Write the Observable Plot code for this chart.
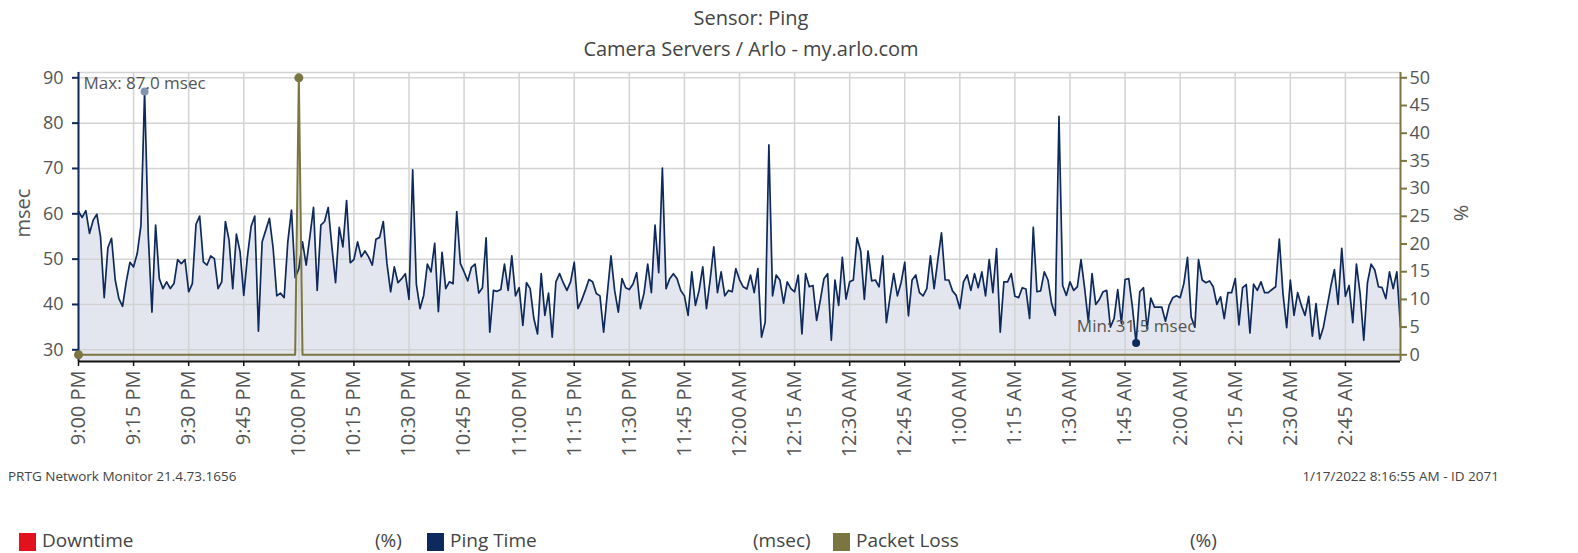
<!DOCTYPE html>
<html><head><meta charset="utf-8">
<script src="https://cdn.jsdelivr.net/npm/d3@7"></script>
<script src="https://cdn.jsdelivr.net/npm/@observablehq/plot@0.6"></script>
<style>
body{margin:0;background:#fff;font-family:"Open Sans",sans-serif;color:#444;width:1578px;height:553px;overflow:hidden;position:relative}
.abs{position:absolute;white-space:nowrap}
#chart,#overlay{position:absolute;left:0;top:0}
.sq{display:inline-block;position:absolute;width:17px;height:18px}
</style></head><body>
<div class="abs" style="left:0;width:1502px;text-align:center;top:4px;font-size:20px;color:#444">Sensor: Ping</div>
<div class="abs" style="left:0;width:1502px;text-align:center;top:35px;font-size:20px;color:#444">Camera Servers / Arlo - my.arlo.com</div>
<div id="chart"></div>
<div id="overlay"></div>
<div class="abs" style="left:22px;top:213px;transform:translate(-50%,-50%) rotate(-90deg);font-size:20px;color:#555">msec</div>
<div class="abs" style="left:1461px;top:213px;transform:translate(-50%,-50%) rotate(90deg);font-size:20px;color:#555">%</div>
<div class="abs" style="left:8px;top:467px;font-size:13.5px;color:#444">PRTG Network Monitor 21.4.73.1656</div>
<div class="abs" style="right:79px;top:467px;font-size:13.5px;color:#444">1/17/2022 8:16:55 AM - ID 2071</div>
<div id="legend"></div>
<script>
// ---- data ----
const startTime = Date.UTC(2022, 0, 16, 21, 0); // 9:00 PM, one sample per minute
const pingTime = [
60.5,59.2,60.7,55.7,58.6,59.9,54.9,41.5,52.5,54.6,45.4,41.3,39.6,45.0,49.3,48.3,51.3,57.4,87.0,55.3,
38.3,57.5,45.7,43.5,45.0,43.5,44.6,49.9,49.0,49.9,42.8,44.6,57.7,59.5,49.4,48.7,50.7,50.1,43.5,45.0,
58.3,54.2,
43.5,55.5,51.6,42.0,50.5,57.2,59.5,34.1,53.8,56.4,59.0,52.4,41.9,42.5,41.5,53.8,60.8,45.9,47.9,53.8,
48.7,54.9,61.4,43.1,57.5,58.3,61.4,52.7,44.8,57.0,52.7,62.9,49.2,49.9,53.8,50.5,51.8,50.5,48.7,54.4,
54.8,58.3,
49.0,42.8,48.3,44.8,45.7,46.8,41.1,69.7,44.5,39.1,42.0,48.9,47.2,53.5,38.4,51.5,43.5,45.0,44.6,60.5,
49.0,47.2,45.2,48.2,48.9,42.5,43.7,54.7,33.9,43.1,42.9,43.3,48.9,43.1,50.7,41.9,43.7,35.4,44.8,43.5,
36.9,33.5,
46.8,37.6,42.5,32.8,45.0,46.8,44.8,43.1,45.0,49.3,39.1,40.9,43.1,45.5,45.0,42.4,41.9,33.9,42.4,50.7,
43.1,38.3,45.7,43.7,43.3,44.5,47.0,39.1,42.5,48.9,42.6,57.5,47.0,70.1,43.5,45.7,46.8,45.7,43.1,41.9,
37.6,47.2,
39.8,43.1,48.3,39.1,45.4,52.7,42.6,47.2,41.9,43.1,42.8,47.9,45.5,43.9,43.4,46.5,42.6,47.9,32.8,36.1,
75.2,41.9,46.5,45.4,40.3,45.0,43.5,42.8,46.5,33.5,46.8,43.9,44.2,36.5,40.9,45.7,46.8,32.1,45.4,39.8,
50.4,41.2,45.0,
45.4,54.7,51.8,41.1,51.8,45.2,45.4,43.9,50.7,36.0,41.7,46.8,41.9,44.8,49.3,37.5,45.4,46.5,42.6,41.9,
43.5,50.7,43.5,49.8,55.8,45.4,45.4,43.0,42.0,39.1,45.0,46.5,43.1,46.8,43.7,47.2,41.9,49.9,42.6,52.3,
33.9,45.0,
45.0,46.8,41.8,41.5,43.7,43.4,36.9,57.0,42.8,43.0,47.2,45.4,40.2,37.6,81.5,44.2,42.0,45.0,43.1,43.9,
49.9,43.5,36.1,46.8,40.0,41.1,42.8,43.1,35.0,36.9,43.3,35.8,45.5,45.7,39.4,31.5,42.8,43.7,34.6,41.4,
39.4,39.4,
39.4,36.3,39.8,41.5,41.9,41.5,44.6,50.4,37.2,35.0,49.9,45.4,44.8,45.2,43.9,40.0,41.7,36.9,42.6,42.6,
45.7,35.5,43.7,44.4,33.7,44.5,43.1,45.0,42.6,42.6,43.3,43.9,54.4,42.4,34.9,45.4,37.6,42.6,39.8,37.6,
41.8,33.0,40.2,
32.4,35.0,39.4,43.9,47.7,40.0,52.4,41.8,44.2,36.0,48.9,42.4,32.1,44.8,48.9,47.6,43.9,43.7,41.3,47.2,
43.5,47.2,35.0
];
const lossMinutes = [0, 59, 60, 61, 360];
const lossValues  = [0, 0, 50, 0, 0];
const msecTicks = [30, 40, 50, 60, 70, 80, 90];
const pctTicks = [0, 5, 10, 15, 20, 25, 30, 35, 40, 45, 50];
const timeTickLabels = ["9:00 PM","9:15 PM","9:30 PM","9:45 PM","10:00 PM","10:15 PM","10:30 PM","10:45 PM",
  "11:00 PM","11:15 PM","11:30 PM","11:45 PM","12:00 AM","12:15 AM","12:30 AM","12:45 AM",
  "1:00 AM","1:15 AM","1:30 AM","1:45 AM","2:00 AM","2:15 AM","2:30 AM","2:45 AM"];
const legendNames = ["Downtime", "Ping Time", "Packet Loss"];
const legendUnits = ["(%)", "(msec)", "(%)"];
const legendColors = ["#e3101d", "#0e2a5c", "#7b7542"];

// ---- build ----
const NAVY = "#0e2a5c", OLIVE = "#7b7542";
const ping = pingTime.map((v, i) => ({t: new Date(startTime + i * 60000), v}));
const loss = lossMinutes.map((m, i) => ({t: new Date(startTime + m * 60000), v: lossValues[i]}));
const tickDates = timeTickLabels.map((s, k) => new Date(startTime + k * 15 * 60000));
const labelByTime = new Map(tickDates.map((d, k) => [+d, timeTickLabels[k]]));
const maxRow = ping.reduce((a, b) => (b.v > a.v ? b : a));
const minRow = ping.reduce((a, b) => (b.v < a.v ? b : a));
const lossMax = loss.reduce((a, b) => (b.v > a.v ? b : a));

const W = 1578, H = 470, mL = 78, mR = 178, mT = 72, mB = H - 361;
const xDomain = [new Date(startTime), new Date(startTime + 360 * 60000)];
const yDom = [27.42, 91.17];
const pDom = [-1.21, 50.96];
const common = {width: W, height: H, marginLeft: mL, marginRight: mR, marginTop: mT, marginBottom: mB,
  style: {fontFamily: '"Open Sans", sans-serif', fontSize: "18px", color: "#555", background: "transparent", overflow: "visible"},
  x: {type: "utc", domain: xDomain, axis: null}};

const p1 = Plot.plot({
  ...common,
  y: {domain: yDom, axis: null},
  marks: [
    Plot.areaY(ping, {x: "t", y1: yDom[0], y2: "v", fill: "#e3e6ee"}),
    Plot.gridY(msecTicks, {stroke: "#d3d3d3", strokeOpacity: 1, strokeWidth: 1.5}),
    Plot.gridX(tickDates, {stroke: "#d3d3d3", strokeOpacity: 1, strokeWidth: 1.5}),
    Plot.ruleY([yDom[1]], {stroke: "#d3d3d3", strokeWidth: 1.5}),
    Plot.lineY(ping, {x: "t", y: "v", stroke: NAVY, strokeWidth: 1.7}),
    Plot.ruleX([xDomain[0]], {stroke: NAVY, strokeWidth: 2}),
    Plot.ruleY([yDom[0]], {stroke: "#111", strokeWidth: 2}),
    Plot.axisY(msecTicks, {anchor: "left", tickSize: 6, tickPadding: 9, stroke: NAVY, strokeWidth: 2, fill: "#555", label: null, fontSize: 18}),
    Plot.axisX(tickDates, {anchor: "bottom", tickSize: 5, tickPadding: 4, tickRotate: -90, tickFormat: d => labelByTime.get(+d),
      stroke: "#111", strokeWidth: 1.5, fill: "#555", label: null, fontSize: 20}),
    Plot.dot([maxRow], {x: "t", y: "v", r: 4, fill: "#8292b3"}),
    Plot.text([maxRow], {x: "t", y: "v", text: () => "Max: " + maxRow.v.toFixed(1) + " msec", dy: -8, fill: "#555", fontSize: 17, ariaLabel: "maxlabel"}),
    Plot.dot([minRow], {x: "t", y: "v", r: 4, fill: NAVY}),
    Plot.text([minRow], {x: "t", y: "v", text: () => "Min: " + minRow.v.toFixed(1) + " msec", dy: -16, fill: "#555", fontSize: 17, ariaLabel: "minlabel"})
  ]
});

const p2 = Plot.plot({
  ...common,
  y: {domain: pDom, axis: null},
  marks: [
    Plot.lineY(loss, {x: "t", y: "v", stroke: OLIVE, strokeWidth: 2}),
    Plot.dot([loss[0], lossMax], {x: "t", y: "v", r: 4.5, fill: OLIVE}),
    Plot.ruleX([xDomain[1]], {stroke: OLIVE, strokeWidth: 2}),
    Plot.axisY(pctTicks, {anchor: "right", tickSize: 6, tickPadding: 3, stroke: OLIVE, strokeWidth: 2, fill: "#555", label: null, fontSize: 18})
  ]
});

document.getElementById("chart").append(p1);
document.getElementById("overlay").append(p2);

// white boxes behind the min / max labels
for (const key of ["maxlabel", "minlabel"]) {
  const g = p1.querySelector(`g[aria-label="${key}"]`);
  if (!g) continue;
  for (const t of g.querySelectorAll("text")) {
    const b = t.getBBox();
    const r = document.createElementNS("http://www.w3.org/2000/svg", "rect");
    r.setAttribute("x", b.x - 4); r.setAttribute("y", b.y);
    r.setAttribute("width", b.width + 8); r.setAttribute("height", b.height);
    r.setAttribute("fill", "white"); r.setAttribute("fill-opacity", 0.7);
    if (t.getAttribute("transform")) r.setAttribute("transform", t.getAttribute("transform"));
    t.parentNode.insertBefore(r, t);
  }
}

// legend
const legendX = [19, 427, 833], unitX = [375, 753, 1190];
const leg = document.getElementById("legend");
legendNames.forEach((n, i) => {
  const sq = document.createElement("div");
  sq.className = "sq"; sq.style.left = legendX[i] + "px"; sq.style.top = "533px"; sq.style.background = legendColors[i];
  leg.append(sq);
  const tx = document.createElement("div");
  tx.className = "abs"; tx.style.left = (legendX[i] + 23) + "px"; tx.style.top = "527px"; tx.style.fontSize = "19px"; tx.style.color = "#444";
  tx.textContent = n; leg.append(tx);
  const u = document.createElement("div");
  u.className = "abs"; u.style.left = unitX[i] + "px"; u.style.top = "527px"; u.style.fontSize = "19px"; u.style.color = "#444";
  u.textContent = legendUnits[i]; leg.append(u);
});
</script>
</body></html>
